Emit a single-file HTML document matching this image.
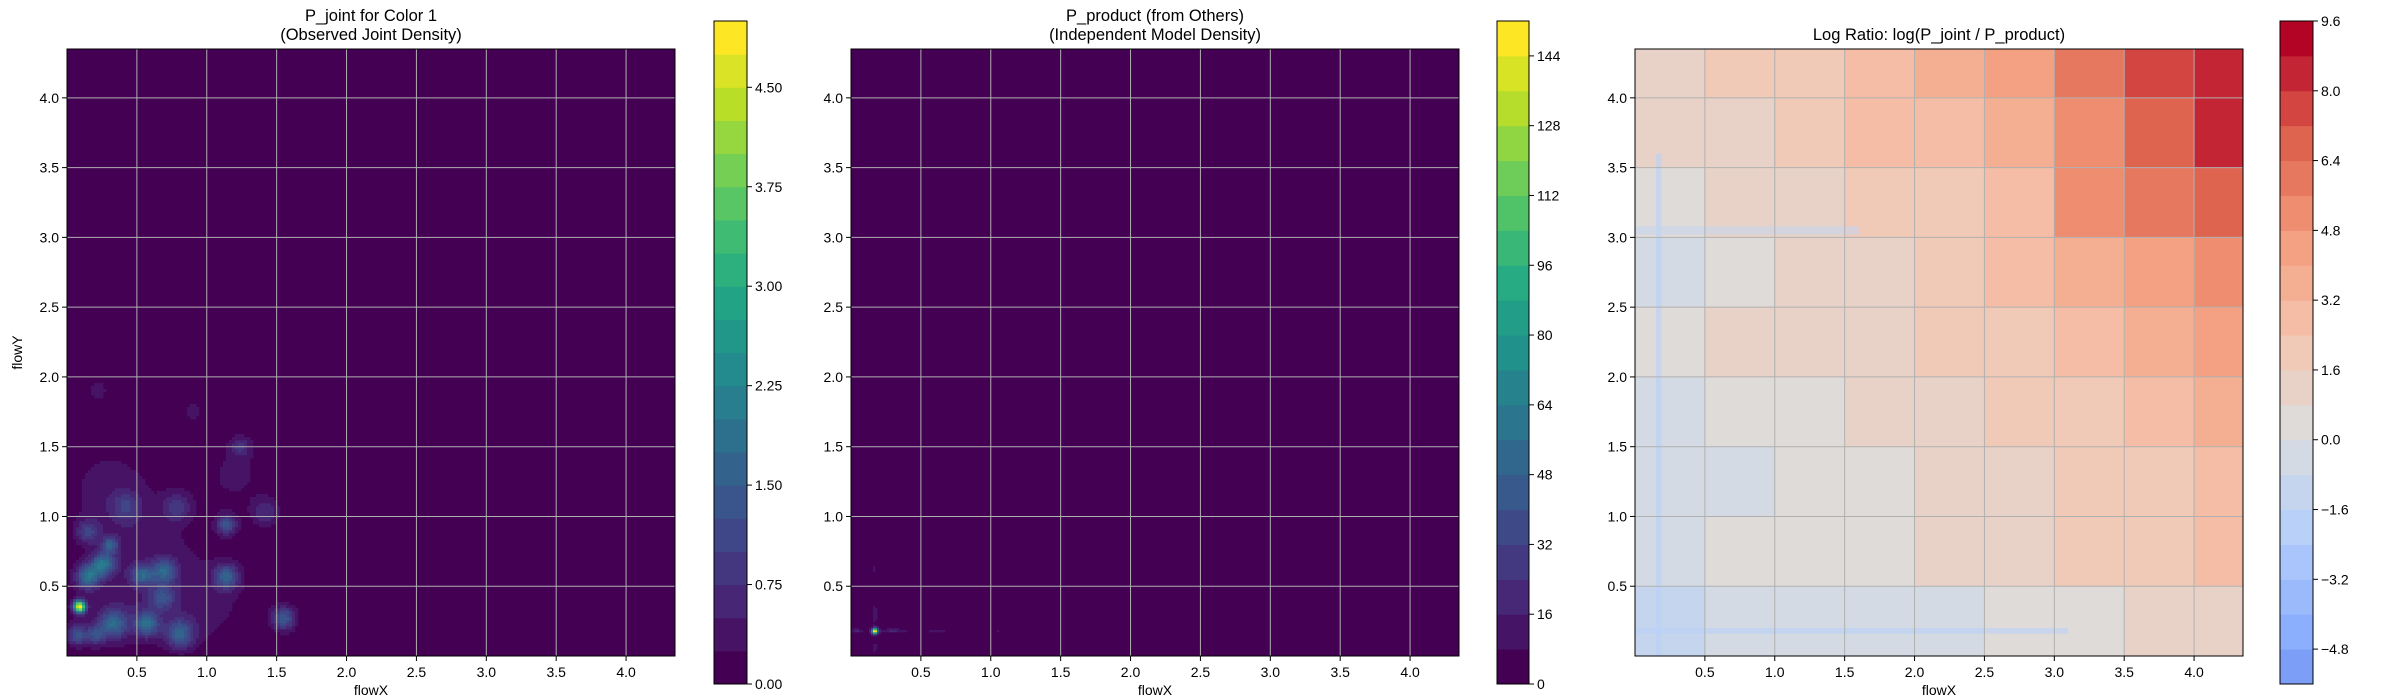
<!DOCTYPE html>
<html><head><meta charset="utf-8"><style>
html,body{margin:0;padding:0;background:#fff;}
svg{display:block;font-family:"Liberation Sans","DejaVu Sans",sans-serif;}
</style></head><body>
<svg id="fig" width="2400" height="700" viewBox="0 0 2400 700" xmlns="http://www.w3.org/2000/svg"></svg>
<script>
const axisTicks = [0.5,1.0,1.5,2.0,2.5,3.0,3.5,4.0];
const axisTickLabels = ["0.5","1.0","1.5","2.0","2.5","3.0","3.5","4.0"];
const domainMax = 4.35;

const p1BlobX   = [0.09,0.15,0.26,0.31,0.33,0.07,0.20,0.54,0.57,0.70,0.68,0.81,1.14,1.14,0.79,1.42,1.55,1.24,0.42,0.15,0.30,0.55,1.00,0.22,0.90,0.45,1.20];
const p1BlobY   = [0.355,0.57,0.66,0.80,0.23,0.15,0.15,0.58,0.23,0.61,0.42,0.16,0.57,0.94,1.07,1.03,0.27,1.50,1.07,0.89,1.20,0.80,0.40,1.90,1.75,0.30,1.30];
const p1BlobAmp = [4.9,1.8,1.8,1.3,1.5,1.2,1.0,1.4,1.5,1.4,1.0,1.4,1.5,1.3,0.8,0.7,1.4,0.7,0.7,0.9,0.35,0.35,0.3,0.3,0.3,0.35,0.3];
const p1BlobSx  = [0.03,0.06,0.06,0.04,0.07,0.05,0.05,0.06,0.06,0.06,0.06,0.07,0.06,0.05,0.07,0.07,0.06,0.05,0.07,0.06,0.22,0.25,0.25,0.08,0.08,0.30,0.18];
const p1BlobSy  = [0.03,0.06,0.06,0.04,0.07,0.05,0.05,0.05,0.06,0.06,0.06,0.07,0.06,0.05,0.07,0.07,0.06,0.05,0.07,0.06,0.22,0.25,0.25,0.10,0.08,0.18,0.18];
const p1Levels  = [0,0.25,0.5,0.75,1.0,1.25,1.5,1.75,2.0,2.25,2.5,2.75,3.0,3.25,3.5,3.75,4.0,4.25,4.5,4.75,5.0];
const p1CbTicks = [0,0.75,1.5,2.25,3.0,3.75,4.5];
const p1CbLabels = ["0.00","0.75","1.50","2.25","3.00","3.75","4.50"];

const p2BlobX   = [0.17,0.17,0.17,0.17,0.17,0.04,0.30,0.62,1.05,0.17];
const p2BlobY   = [0.18,0.30,0.06,0.62,1.05,0.18,0.18,0.18,0.18,0.18];
const p2BlobAmp = [152,14,14,10,9,12,12,10,9,6];
const p2BlobSx  = [0.015,0.012,0.012,0.012,0.010,0.025,0.06,0.05,0.02,0.40];
const p2BlobSy  = [0.015,0.06,0.03,0.05,0.02,0.012,0.012,0.012,0.012,0.012];
const p2Levels  = [0,8,16,24,32,40,48,56,64,72,80,88,96,104,112,120,128,136,144,152];
const p2CbTicks = [0,16,32,48,64,80,96,112,128,144];
const p2CbLabels = ["0","16","32","48","64","80","96","112","128","144"];

const p3ColEdges = [0,0.5,1.0,1.5,2.0,2.5,3.0,3.5,4.0,4.35];
const p3RowEdges = [4.35,4.0,3.5,3.0,2.5,2.0,1.5,1.0,0.5,0];
const p3Row0 = [1.2,1.6,1.8,2.6,3.4,4.0,5.6,7.4,8.7];
const p3Row1 = [0.8,1.4,1.6,2.4,3.0,3.6,5.2,7.0,8.0];
const p3Row2 = [0.2,0.8,1.0,1.6,2.2,3.0,4.8,6.2,6.8];
const p3Row3 = [-0.2,0.4,0.8,1.3,2.0,2.6,3.8,4.6,5.0];
const p3Row4 = [0.4,0.9,1.0,1.3,1.7,2.2,2.8,3.6,4.4];
const p3Row5 = [-0.2,0.2,0.6,0.9,1.3,1.7,2.2,2.8,3.2];
const p3Row6 = [-0.6,-0.2,0.2,0.6,1.0,1.5,1.9,2.3,2.7];
const p3Row7 = [-0.4,0.0,0.3,0.5,0.9,1.3,1.7,2.1,2.5];
const p3Row8 = [-1.2,-0.8,-0.6,-0.6,-0.4,0.2,0.6,1.0,1.2];
const p3StreakX0 = [0.15,0.0,0.0];
const p3StreakX1 = [0.19,3.1,1.6];
const p3StreakY0 = [0.0,0.16,3.02];
const p3StreakY1 = [3.6,0.20,3.08];
const p3StreakVal = [-2.0,-2.0,-1.2];
const p3Levels = [-5.6,-4.8,-4.0,-3.2,-2.4,-1.6,-0.8,0,0.8,1.6,2.4,3.2,4.0,4.8,5.6,6.4,7.2,8.0,8.8,9.6];
const p3CbTicks = [-4.8,-3.2,-1.6,0,1.6,3.2,4.8,6.4,8.0,9.6];
const p3CbLabels = ["\u22124.8","\u22123.2","\u22121.6","0.0","1.6","3.2","4.8","6.4","8.0","9.6"];

const NS = "http://www.w3.org/2000/svg";
const fig = document.getElementById('fig');
function mk(tag, attrs, parent){ const e=document.createElementNS(NS,tag); for(const k in attrs) e.setAttribute(k,attrs[k]); (parent||fig).appendChild(e); return e; }
function hex(c){return 'rgb('+c.map(v=>Math.round(v)).join(',')+')';}
function interp(stops,t){ t=Math.max(0,Math.min(1,t)); const n=stops.length-1; const i=Math.min(n-1,Math.floor(t*n)); const f=t*n-i; const a=stops[i],b=stops[i+1]; return [a[0]+(b[0]-a[0])*f,a[1]+(b[1]-a[1])*f,a[2]+(b[2]-a[2])*f]; }
const viridis=[[68,1,84],[72,36,117],[65,68,135],[53,95,141],[42,120,142],[33,145,140],[34,168,132],[68,191,112],[122,209,81],[189,223,38],[253,231,37]];
const coolwarm=[[59,76,192],[98,130,234],[141,176,254],[184,208,249],[221,221,221],[245,196,173],[244,154,123],[222,96,76],[180,4,38]];
function viridisBand(i,n){return hex(interp(viridis,i/(n-1)));}
function coolwarmBand(i,n){return hex(interp(coolwarm,0.2+0.8*i/(n-1)));}

const AY0=49, AY1=656, CBY0=21, CBY1=684;
function makeScales(ax0,ax1){ return { x: v=> ax0+(v/domainMax)*(ax1-ax0), y: v=> AY1-(v/domainMax)*(AY1-AY0) }; }
function bandIndex(levels,v){ for(let i=levels.length-2;i>=0;i--){ if(v>=levels[i]) return i; } return 0; }

function drawAxes(g,ax0,ax1,sc,titleLines,showXLabel,showYLabel){
  axisTicks.forEach((t,i)=>{
    const gx=mk('line',{x1:sc.x(t),x2:sc.x(t),y1:AY0,y2:AY1,stroke:'#b0b0b0','stroke-width':1},g);
    
    
    const gy=mk('line',{x1:ax0,x2:ax1,y1:sc.y(t),y2:sc.y(t),stroke:'#b0b0b0','stroke-width':1},g);
    
    
    const tx=mk('line',{x1:sc.x(t),x2:sc.x(t),y1:AY1,y2:AY1+5,stroke:'#000','stroke-width':1},g);
    
    
    const lx=mk('text',{x:sc.x(t),y:AY1+21,'text-anchor':'middle','font-size':14,fill:'#000'},g);
    lx.textContent=axisTickLabels[i];
    
    
    const ty=mk('line',{x1:ax0-5,x2:ax0,y1:sc.y(t),y2:sc.y(t),stroke:'#000','stroke-width':1},g);
    
    
    const ly=mk('text',{x:ax0-8,y:sc.y(t)+5,'text-anchor':'end','font-size':14,fill:'#000'},g);
    ly.textContent=axisTickLabels[i];
    
    
  });
  const fr=mk('rect',{x:ax0,y:AY0,width:ax1-ax0,height:AY1-AY0,fill:'none',stroke:'#000','stroke-width':1},g);
  
  
  const cx=(ax0+ax1)/2;
  titleLines.forEach((s,i)=>{
    const tt=mk('text',{x:cx,y:(titleLines.length===2? 21+i*19 : 40),'text-anchor':'middle','font-size':16.5,fill:'#000'},g);
    tt.textContent=s;
    
    
  });
  if(showXLabel){
    const xl=mk('text',{x:cx,y:695,'text-anchor':'middle','font-size':14,fill:'#000'},g);
    xl.textContent='flowX';
    
    
  }
  if(showYLabel){
    const yl=mk('text',{x:0,y:0,'text-anchor':'middle','font-size':14,fill:'#000',transform:'translate(22,'+((AY0+AY1)/2)+') rotate(-90)'},g);
    yl.textContent='flowY';
    
    
  }
}

function drawColorbar(g,cx0,cx1,levels,ticks,labels,bandFn){
  const n=levels.length-1; const lo=levels[0], hi=levels[n];
  const cy=v=> CBY1-(v-lo)/(hi-lo)*(CBY1-CBY0);
  for(let i=0;i<n;i++){
    const r=mk('rect',{x:cx0,y:cy(levels[i+1]),width:cx1-cx0,height:cy(levels[i])-cy(levels[i+1])+0.5,fill:bandFn(i,n)},g);
    
    
  }
  const fr=mk('rect',{x:cx0,y:CBY0,width:cx1-cx0,height:CBY1-CBY0,fill:'none',stroke:'#000','stroke-width':1},g);
  
  
  ticks.forEach((t,i)=>{
    const tk=mk('line',{x1:cx1,x2:cx1+5,y1:cy(t),y2:cy(t),stroke:'#000','stroke-width':1},g);
    
    
    const lb=mk('text',{x:cx1+8,y:cy(t)+5,'font-size':14,fill:'#000'},g);
    lb.textContent=labels[i];
    
    
  });
}

function drawBlobField(g,ax0,ax1,sc,bx,by,ba,bsx,bsy,levels,xMax,yMax,step){
  const bg=mk('rect',{x:ax0,y:AY0,width:ax1-ax0,height:AY1-AY0,fill:viridisBand(0,levels.length-1)},g);
  
  
  const n=levels.length-1;
  const pxPer=(ax1-ax0)/domainMax;
  for(let px=ax0; px<sc.x(xMax); px+=step){
    for(let py=AY1-step; py>=sc.y(yMax)-step; py-=step){
      const xv=(px+step/2-ax0)/pxPer, yv=(AY1-(py+step/2))/pxPer;
      let v=0;
      for(let k=0;k<bx.length;k++){ const dx=(xv-bx[k])/bsx[k], dy=(yv-by[k])/bsy[k]; v+=ba[k]*Math.exp(-0.5*(dx*dx+dy*dy)); }
      const bi=bandIndex(levels,v);
      if(bi>0){
        const c=mk('rect',{x:px,y:py,width:step+0.3,height:step+0.3,fill:viridisBand(bi,n)},g);
        
        
      }
    }
  }
}

(function(){
  const g=mk('g',{});  
  const ax0=67, ax1=675, sc=makeScales(ax0,ax1);
  const pg=mk('g',{},g);  
  drawBlobField(pg,ax0,ax1,sc,p1BlobX,p1BlobY,p1BlobAmp,p1BlobSx,p1BlobSy,p1Levels,2.0,2.4,3);
  drawAxes(g,ax0,ax1,sc,["P_joint for Color 1","(Observed Joint Density)"],true,true);
  const cb=mk('g',{},g);  
  drawColorbar(cb,714,747,p1Levels,p1CbTicks,p1CbLabels,viridisBand);
})();

(function(){
  const g=mk('g',{});  
  const ax0=851, ax1=1459, sc=makeScales(ax0,ax1);
  const pg=mk('g',{},g);  
  drawBlobField(pg,ax0,ax1,sc,p2BlobX,p2BlobY,p2BlobAmp,p2BlobSx,p2BlobSy,p2Levels,1.3,1.3,2);
  drawAxes(g,ax0,ax1,sc,["P_product (from Others)","(Independent Model Density)"],true,false);
  const cb=mk('g',{},g);  
  drawColorbar(cb,1497,1529,p2Levels,p2CbTicks,p2CbLabels,viridisBand);
})();

(function(){
  const g=mk('g',{});  
  const ax0=1635, ax1=2243, sc=makeScales(ax0,ax1);
  const rows=[p3Row0,p3Row1,p3Row2,p3Row3,p3Row4,p3Row5,p3Row6,p3Row7,p3Row8];
  const n=p3Levels.length-1;
  const pg=mk('g',{},g);  
  rows.forEach((row,r)=>{
    row.forEach((v,c)=>{
      const x0=sc.x(p3ColEdges[c]), x1=sc.x(p3ColEdges[c+1]);
      const y0=sc.y(p3RowEdges[r]), y1=sc.y(p3RowEdges[r+1]);
      const cell=mk('rect',{x:x0,y:y0,width:x1-x0+0.5,height:y1-y0+0.5,fill:coolwarmBand(bandIndex(p3Levels,v),n)},pg);
      
      
    });
  });
  p3StreakVal.forEach((v,i)=>{
    const x0=sc.x(p3StreakX0[i]), x1=sc.x(p3StreakX1[i]);
    const y0=sc.y(p3StreakY1[i]), y1=sc.y(p3StreakY0[i]);
    const s=mk('rect',{x:x0,y:y0,width:x1-x0,height:y1-y0,fill:coolwarmBand(bandIndex(p3Levels,v),n),opacity:0.6},pg);
    
    
  });
  drawAxes(g,ax0,ax1,sc,["Log Ratio: log(P_joint / P_product)"],true,false);
  const cb=mk('g',{},g);  
  drawColorbar(cb,2280,2313,p3Levels,p3CbTicks,p3CbLabels,coolwarmBand);
})();
</script>
</body></html>
